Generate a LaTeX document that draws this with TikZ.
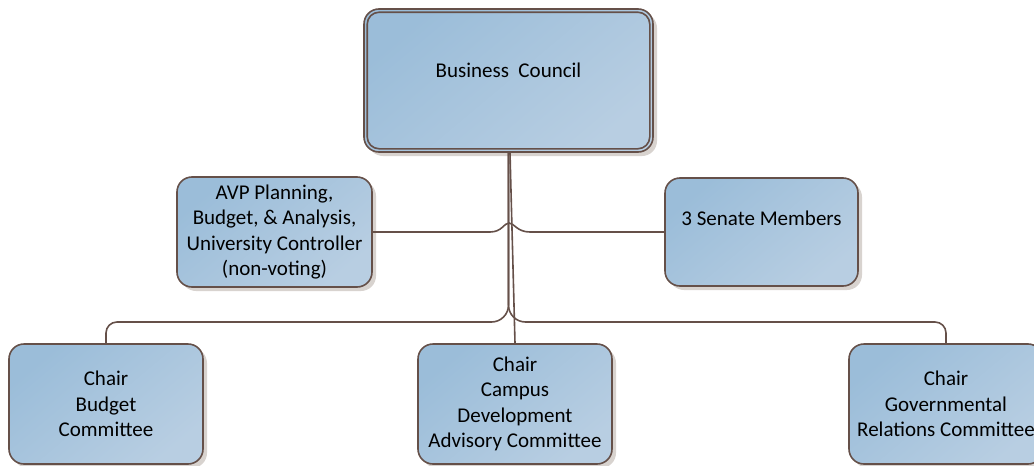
\documentclass[tikz,border=0pt]{standalone}
\usepackage{fontspec}
\setmainfont{Carlito}
\usetikzlibrary{shadows,calc}
\definecolor{brd}{HTML}{655049}
\definecolor{fillA}{HTML}{9BBDD9}
\definecolor{fillB}{HTML}{B8CEE2}
\definecolor{shd}{HTML}{D8D3CF}
\newcommand{\orgfont}{\fontsize{21}{25.5}\selectfont}
\begin{document}
\begin{tikzpicture}[x=1pt,y=-1pt,
  orgbox/.style={draw=brd, line width=1.6pt, rounded corners=15pt,
    top color=fillA, bottom color=fillB, shading angle=40,
    drop shadow={shadow xshift=4pt, shadow yshift=-4pt, fill=shd, opacity=1},
    align=center, font=\orgfont, inner sep=0pt,
    minimum width=194pt, minimum height=120pt},
  conn/.style={draw=brd, line width=1.6pt},
  boxlabel/.style={font=\orgfont, inner sep=0pt}]
\useasboundingbox (0,0) rectangle (1034,466);

\node[orgbox, minimum width=289pt, minimum height=143pt,
  label={[boxlabel, yshift=10.5pt]center:Business\ \ Council}] (bc) at (508.5,80.5) {};
\draw[brd, line width=1.6pt, rounded corners=12pt]
  ([shift={(4pt,-4pt)}]bc.north west) rectangle ([shift={(-4pt,4pt)}]bc.south east);

\node[orgbox, minimum width=195pt, minimum height=110pt] (avp) at (274.5,232)
  {AVP Planning,\\Budget, \& Analysis,\\University Controller\\(non-voting)};
\node[orgbox, minimum width=193pt, minimum height=108pt,
  label={[boxlabel, yshift=14pt]center:3 Senate Members}] (senate) at (761.5,232) {};

\node[orgbox] (budget) at (106,404) {Chair\\Budget\\Committee};
\node[orgbox] (campus) at (515,404) {Chair\\Campus\\Development\\Advisory Committee};
\node[orgbox] (gov) at (946,404) {Chair\\Governmental\\Relations Committee};

% connectors
\draw[conn] (avp.east) -- (490,232) .. controls (502,232) and (504,223) .. (509,223)
  .. controls (514,223) and (517,232) .. (530,232) -- (senate.west);
\draw[conn] (bc.south) [rounded corners=17pt] -- (508.5,322) [rounded corners=11pt] -| (budget.north);
\draw[conn] (bc.south) [rounded corners=17pt] -- (508.5,322) [rounded corners=11pt] -| (gov.north);
\draw[conn] ([xshift=1.5pt]bc.south) -- (campus.north);
\end{tikzpicture}
\end{document}
